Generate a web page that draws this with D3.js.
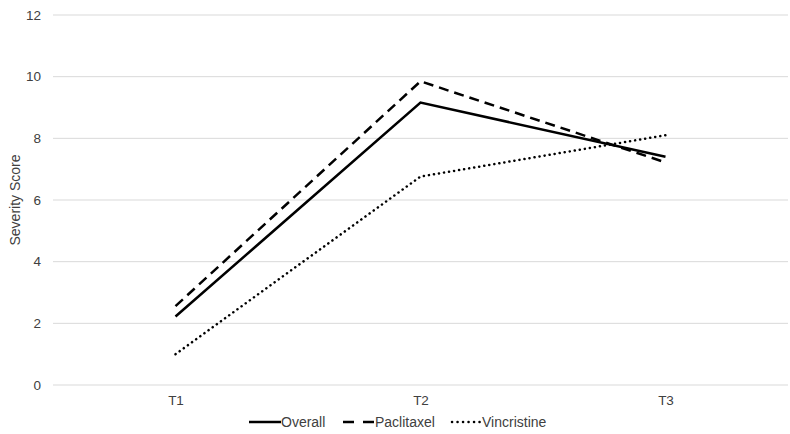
<!DOCTYPE html>
<html>
<head>
<meta charset="utf-8">
<script src="https://cdn.jsdelivr.net/npm/d3@7"></script>
<style>
  body { margin: 0; background: #fff; }
  text { font-family: "Liberation Sans", Arial, sans-serif; fill: #404040; }
</style>
</head>
<body>
<div id="chart"></div>
<script>
const categories = ["T1", "T2", "T3"]
const overall = [2.22, 9.16, 7.4]
const paclitaxel = [2.56, 9.85, 7.22]
const vincristine = [1.0, 6.76, 8.1]
const yTicks = [0, 2, 4, 6, 8, 10, 12]

const series = [
    { name: "Overall", values: overall, dash: null, legendDash: null },
    { name: "Paclitaxel", values: paclitaxel, dash: "10,6", legendDash: "11,9" },
    { name: "Vincristine", values: vincristine, dash: "0.1,5", legendDash: "0.1,5.4" }
]

const width = 790,
    height = 434,
    margin = { top: 15, right: 2, bottom: 49, left: 53 }

const svg = d3.select("#chart").append("svg")
    .attr("width", width)
    .attr("height", height)

const x = d3.scalePoint()
    .domain(categories)
    .range([margin.left, width - margin.right])
    .padding(0.5)

const y = d3.scaleLinear()
    .domain([0, 12])
    .range([height - margin.bottom, margin.top])

// gridlines
svg.append("g")
    .selectAll("line")
    .data(yTicks)
    .join("line")
    .attr("x1", margin.left)
    .attr("x2", width - margin.right)
    .attr("y1", d => y(d))
    .attr("y2", d => y(d))
    .attr("stroke", "#d9d9d9")
    .attr("stroke-width", 1)

const yAxis = svg.append("g")
    .attr("transform", `translate(${margin.left},0)`)
    .call(d3.axisLeft(y).tickValues(yTicks).tickSize(0).tickPadding(12))
yAxis.select(".domain").remove()
yAxis.selectAll("text").style("font-size", "13.5px").attr("fill", "#404040")

const xAxis = svg.append("g")
    .attr("transform", `translate(0,${y(0)})`)
    .call(d3.axisBottom(x).tickSize(0).tickPadding(10))
xAxis.select(".domain").remove()
xAxis.selectAll("text").style("font-size", "13.5px").attr("fill", "#404040")

svg.append("text")
    .attr("transform", `translate(20,${(y(0) + y(12)) / 2}) rotate(-90)`)
    .attr("text-anchor", "middle")
    .style("font-size", "14px")
    .text("Severity Score")

const line = d3.line()
    .x((d, i) => x(categories[i]))
    .y(d => y(d))

svg.append("g")
    .selectAll("path")
    .data(series)
    .join("path")
    .attr("d", d => line(d.values))
    .attr("fill", "none")
    .attr("stroke", "#000")
    .attr("stroke-width", 2.5)
    .attr("stroke-linecap", d => d.name === "Vincristine" ? "round" : "butt")
    .attr("stroke-dasharray", d => d.dash)

// legend
const legend = svg.append("g")
    .attr("transform", `translate(249,${height - 7})`)
const offsets = [0, 94, 201]
series.forEach((s, i) => {
    const g = legend.append("g").attr("transform", `translate(${offsets[i]},0)`)
    g.append("line")
        .attr("x1", s.name === "Vincristine" ? 2 : 0).attr("x2", 32)
        .attr("y1", -5).attr("y2", -5)
        .attr("stroke", "#000")
        .attr("stroke-width", 2.5)
        .attr("stroke-linecap", s.name === "Vincristine" ? "round" : "butt")
        .attr("stroke-dasharray", s.legendDash)
    g.append("text")
        .attr("x", 32)
        .style("font-size", "14px")
        .text(s.name)
})
</script>
</body>
</html>
